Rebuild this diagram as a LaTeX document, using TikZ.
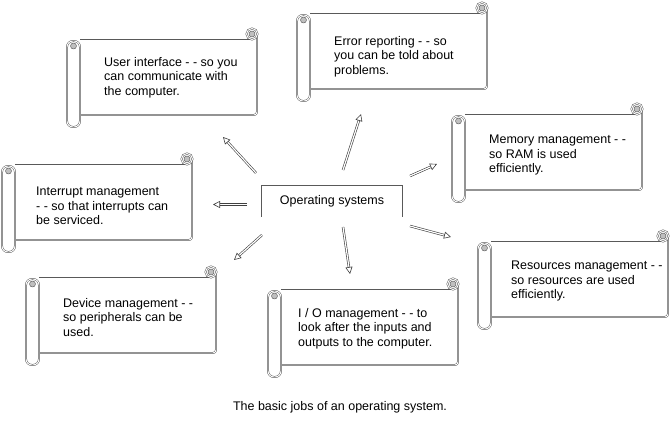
\documentclass[tikz,border=0pt]{standalone}
\usepackage{fontspec}
\setmainfont{Liberation Sans}
\usetikzlibrary{arrows.meta}

\tikzset{
  scrollline/.style={draw=black!65, line width=0.5pt, double=white, double distance=0.9pt},
  curl/.style={draw=black!65, line width=0.45pt, fill=black!25},
  jobtext/.style={anchor=north west, inner sep=0pt, align=left,
    font=\fontsize{12.5}{14.5}\selectfont},
  jobarrow/.style={draw=black!75, line width=0.6pt, double=white, double distance=1.2pt,
    -{Triangle[open, length=7pt, width=7pt]}},
}

% scroll frame: left roll at x=#1, top of the sheet at y=#2
\newcommand\scrollframe[2]{%
  \begin{scope}[shift={(#1,#2)}]
    \draw[scrollline, rounded corners=6pt] (0,1) rectangle (13,87);
    \filldraw[curl] (6.5,6) circle (3);
    \draw[scrollline] (13,0) -- (184,0);
    \draw[scrollline, rounded corners=3pt] (190,-5) -- (190,75) -- (13,75);
    \draw[scrollline] (185,-6) circle (5.5);
    \filldraw[curl] (185,-6) circle (3);
  \end{scope}
}

\begin{document}
\begin{tikzpicture}[x=1pt, y=-1pt]
  \useasboundingbox (0,0) rectangle (672,427);

  % the seven jobs
  \scrollframe{67}{40}
  \node[jobtext] (ui) at (104,57) {User interface - - so you\\can communicate with\\the computer.};
  \scrollframe{297}{14}
  \node[jobtext] (err) at (334,36) {Error reporting - - so\\you can be told about\\problems.};
  \scrollframe{452}{115}
  \node[jobtext] (mem) at (489,135) {Memory management - -\\so RAM is used\\efficiently.};
  \scrollframe{2}{165}
  \node[jobtext] (irq) at (36,187) {Interrupt management\\- - so that interrupts can\\be serviced.};
  \scrollframe{478}{242}
  \node[jobtext] (res) at (511,261) {Resources management - -\\so resources are used\\efficiently.};
  \scrollframe{26}{278}
  \node[jobtext] (dev) at (63,298) {Device management - -\\so peripherals can be\\used.};
  \scrollframe{268}{290}
  \node[jobtext] (io) at (298,308) {I / O management - - to\\look after the inputs and\\outputs to the computer.};

  % the hub
  \node[minimum width=142pt, minimum height=32pt, inner sep=0pt,
        font=\fontsize{12.5}{14.5}\selectfont] (os) at (332,201) {Operating systems};
  \draw[scrollline] (os.south west) |- (os.north east) -- (os.south east);

  % arrows out of the hub
  \foreach \name/\tx/\ty/\hx/\hy in {ui/256/173/223/137, err/343/170/361/114,
      mem/410/176/437/164, irq/247/204.5/213/204.5, dev/262/235/234/260,
      io/343/227/350/274, res/410/226/451/237} {
    \coordinate (\name-t) at (\tx,\ty);
    \coordinate (\name-h) at (\hx,\hy);
    \draw[jobarrow] (\name-t) -- (\name-h);
  }

  \node[font=\fontsize{12.5}{14.5}\selectfont] (caption) at (340,407) {The basic jobs of an operating system.};
\end{tikzpicture}
\end{document}
